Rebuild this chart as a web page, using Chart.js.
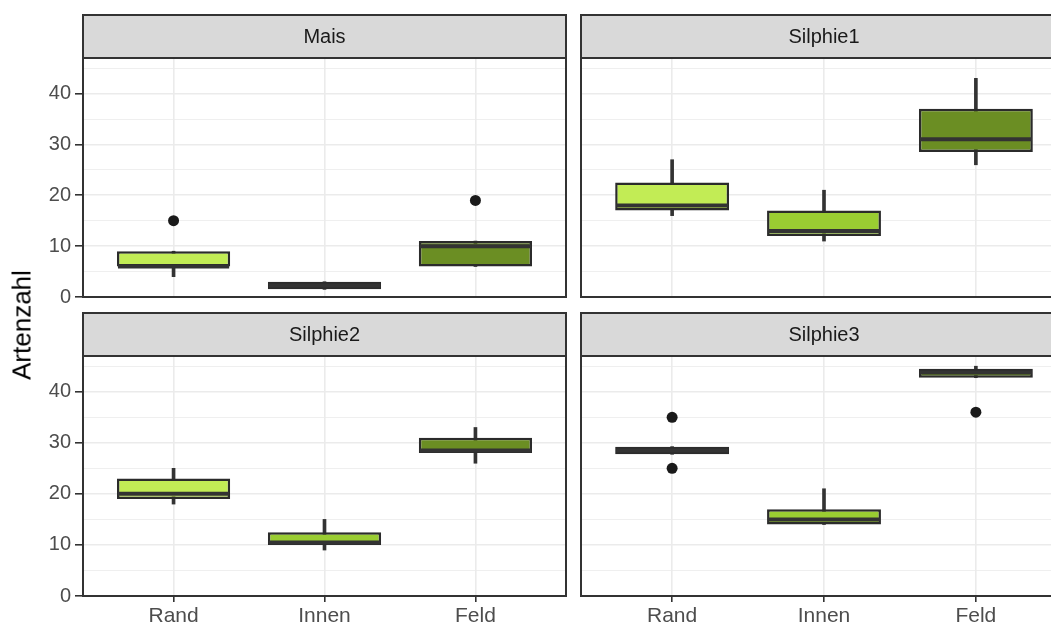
<!DOCTYPE html>
<html>
<head>
<meta charset="utf-8">
<script src="https://cdn.jsdelivr.net/npm/chart.js@4"></script>
<style>
  html, body { margin: 0; padding: 0; background: #fff; overflow: hidden; width: 1051px; height: 627px; }
  canvas { position: absolute; }
  #ytitle {
    position: absolute; left: 22px; top: 325px;
    transform: translate(-50%, -50%) rotate(-90deg);
    font: 26px 'Liberation Sans', Arial, sans-serif; color: #000; white-space: nowrap;
  }
</style>
</head>
<body>
<canvas id="p2" width="567" height="327" style="left:0;top:300px"></canvas>
<canvas id="p3" width="488" height="327" style="left:580px;top:300px"></canvas>
<canvas id="p0" width="567" height="312" style="left:0;top:0"></canvas>
<canvas id="p1" width="488" height="312" style="left:580px;top:0"></canvas>
<div id="ytitle">Artenzahl</div>
<script>
// Kategorien und Facetten
const categories = ['Rand', 'Innen', 'Feld'];
const panels = ['Mais', 'Silphie1', 'Silphie2', 'Silphie3'];

// Boxplot-Kennwerte je Facette (Rand, Innen, Feld)
const whiskerLow  = [[4, 1.5, 6], [16, 11, 26], [18, 9, 26], [27.75, 14, 42.75]];
const lowerQ      = [[6, 1.5, 6], [17, 12, 28.5], [19, 10, 28], [27.75, 14, 42.75]];
const medians     = [[6, 2.25, 10], [18, 13, 31], [20, 10.5, 28.5], [28.5, 15, 43.75]];
const upperQ      = [[9, 3, 11], [22.5, 17, 37], [23, 12.5, 31], [29.25, 17, 44.5]];
const whiskerHigh = [[9, 3, 11], [27, 21, 43], [25, 15, 33], [29.25, 21, 45]];
const outliers    = [[[15], [], [19]], [[], [], []], [[], [], []], [[35, 25], [], [36]]];

const yMax = 47;
const fills = ['#c2ec55', '#9acd32', '#6b8e23'];
const FONT = "'Liberation Sans', Arial, sans-serif";

// Streifen oben + Rahmen ums Panel
const facetFrame = {
  id: 'facetFrame',
  beforeDraw(chart, args, opts) {
    const {ctx, chartArea: a} = chart;
    ctx.save();
    ctx.fillStyle = '#d9d9d9';
    ctx.fillRect(a.left, a.top - 43, a.right - a.left, 43);
    ctx.strokeStyle = '#333';
    ctx.lineWidth = 2;
    ctx.strokeRect(a.left, a.top - 43, a.right - a.left, 43);
    ctx.fillStyle = '#1a1a1a';
    ctx.font = '20px ' + FONT;
    ctx.textAlign = 'center';
    ctx.textBaseline = 'middle';
    ctx.fillText(opts.title, (a.left + a.right) / 2, a.top - 21);
    ctx.restore();
  },
  afterDraw(chart) {
    const {ctx, chartArea: a} = chart;
    ctx.save();
    ctx.strokeStyle = '#333';
    ctx.lineWidth = 2;
    ctx.strokeRect(a.left, a.top, a.right - a.left, a.bottom - a.top);
    ctx.restore();
  }
};

// Medianlinien
const medianLines = {
  id: 'medianLines',
  afterDatasetsDraw(chart, args, opts) {
    const meta = chart.getDatasetMeta(1);
    const y = chart.scales.y;
    const ctx = chart.ctx;
    ctx.save();
    ctx.strokeStyle = '#333';
    ctx.lineWidth = 4;
    meta.data.forEach((bar, i) => {
      const py = y.getPixelForValue(opts.values[i]);
      ctx.beginPath();
      ctx.moveTo(bar.x - bar.width / 2 + 1, py);
      ctx.lineTo(bar.x + bar.width / 2 - 1, py);
      ctx.stroke();
    });
    ctx.restore();
  }
};

function noPadding(s) {
  s.paddingTop = 0;
  s.paddingBottom = 0;
  s.paddingLeft = 0;
  s.paddingRight = 0;
}

function makePanel(p) {
  const left = p % 2 === 0;
  const bottom = p >= 2;

  const whiskers = categories.map((c, i) => ({x: i + 1, y: [whiskerLow[p][i], whiskerHigh[p][i]]}));
  const boxes = categories.map((c, i) => ({x: i + 1, y: [lowerQ[p][i], upperQ[p][i]]}));
  const points = [];
  outliers[p].forEach((vals, i) => vals.forEach(v => points.push({x: i + 1, y: v})));

  new Chart(document.getElementById('p' + p), {
    type: 'bar',
    data: {
      datasets: [
        {
          data: whiskers,
          backgroundColor: '#333',
          barThickness: 3,
          grouped: false,
          order: 2
        },
        {
          data: boxes,
          backgroundColor: fills,
          borderColor: '#2b2b2b',
          borderWidth: 2.5,
          borderSkipped: false,
          categoryPercentage: 1,
          barPercentage: 0.75,
          grouped: false,
          order: 1
        },
        {
          type: 'scatter',
          data: points,
          backgroundColor: '#1a1a1a',
          borderWidth: 0,
          pointRadius: 5.5,
          order: 0
        }
      ]
    },
    options: {
      responsive: false,
      animation: false,
      layout: {
        autoPadding: false,
        padding: {left: left ? 0 : 1, right: 1, top: bottom ? 56 : 58, bottom: bottom ? 0 : 15}
      },
      plugins: {
        legend: {display: false},
        tooltip: {enabled: false},
        facetFrame: {title: panels[p]},
        medianLines: {values: medians[p]}
      },
      scales: {
        x: {
          type: 'linear',
          min: 0.4,
          max: 3.6,
          offset: false,
          afterBuildTicks: (s) => { s.ticks = categories.map((c, i) => ({value: i + 1})); },
          afterFit: (s) => { s.height = bottom ? 31 : 0; noPadding(s); },
          border: {display: false},
          grid: {
            offset: false,
            color: '#ebebeb',
            lineWidth: 1.6,
            drawTicks: bottom,
            tickLength: 6,
            tickColor: '#333',
            tickWidth: 1.6
          },
          ticks: {
            display: bottom,
            padding: 2,
            color: '#4d4d4d',
            font: {family: FONT, size: 21},
            callback: (v) => categories[v - 1]
          }
        },
        y: {
          min: 0,
          max: yMax,
          afterBuildTicks: (s) => {
            const t = [];
            for (let v = 0; v <= 45; v += 5) t.push({value: v});
            s.ticks = t;
          },
          afterFit: (s) => { s.width = left ? 83 : 0; noPadding(s); },
          border: {display: false},
          grid: {
            color: '#ebebeb',
            lineWidth: (c) => (c.tick && c.tick.value % 10 === 0 ? 1.6 : 0.8),
            drawTicks: left,
            tickLength: 8,
            tickColor: (c) => (c.tick && c.tick.value % 10 === 0 ? '#333' : 'rgba(0,0,0,0)'),
            tickWidth: 1.6
          },
          ticks: {
            display: left,
            autoSkip: false,
            padding: 4,
            color: '#4d4d4d',
            font: {family: FONT, size: 20},
            callback: (v) => (v % 10 === 0 ? v : '')
          }
        }
      }
    },
    plugins: [facetFrame, medianLines]
  });
}

panels.forEach((name, p) => makePanel(p));
</script>
</body>
</html>
